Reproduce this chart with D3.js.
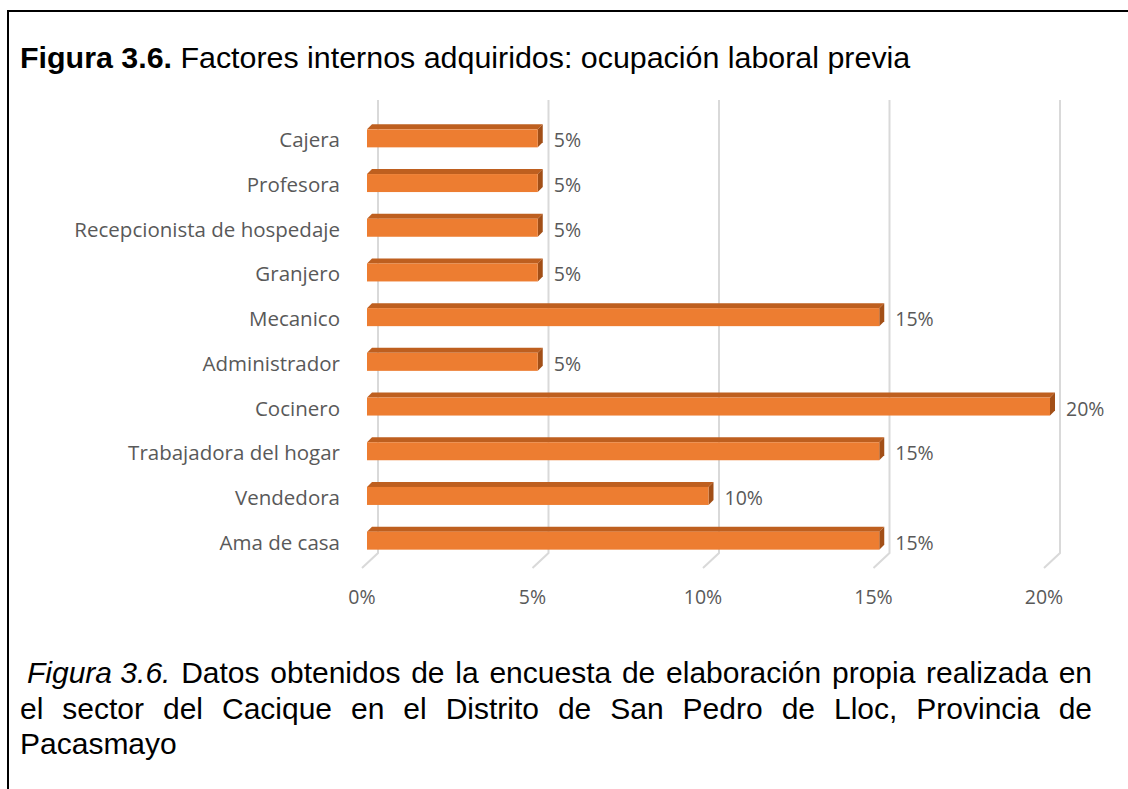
<!DOCTYPE html>
<html><head><meta charset="utf-8">
<script src="https://cdn.jsdelivr.net/npm/d3@7"></script>
<style>body{margin:0;background:#fff}svg{display:block}</style>
</head><body>
<svg id="c" width="1128" height="789"></svg>
<script>
const categories = ["Cajera","Profesora","Recepcionista de hospedaje","Granjero","Mecanico","Administrador","Cocinero","Trabajadora del hogar","Vendedora","Ama de casa"];
const values = [0.05,0.05,0.05,0.05,0.15,0.05,0.20,0.15,0.10,0.15];
const ticks = [0,0.05,0.10,0.15,0.20];
const titleBold = "Figura 3.6.";
const titleRest = " Factores internos adquiridos: ocupación laboral previa";
const captionItalic = "Figura 3.6.";
const captionLines = [
  "Datos obtenidos de la encuesta de elaboración propia realizada en",
  "el sector del Cacique en el Distrito de San Pedro de Lloc, Provincia de",
  "Pacasmayo"
];

const svg = d3.select("#c");
const W = 1128, H = 789;
// frame
svg.append("path").attr("d", `M8,${H} L8,11 L${W},11`).attr("fill","none").attr("stroke","#000").attr("stroke-width",2);

const capFont = "Liberation Sans, Arial, sans-serif";
const capSize = 30;

// title
const t = svg.append("text").attr("x",20).attr("y",68).attr("font-family",capFont).attr("font-size",30.4).attr("fill","#000");
t.append("tspan").attr("font-weight","bold").text(titleBold);
t.append("tspan").text(titleRest);

// scales
const xFront = d3.scaleLinear().domain([0,0.2]).range([367,1050]);
const xBack = d3.scaleLinear().domain([0,0.2]).range([378,1060]);
const y = d3.scaleBand().domain(categories).range([116,563]).paddingInner(0.6).paddingOuter(0.3);
const floorDx = -16, floorDy = 15;
const backTop = 100, backBottom = 553;

// gridlines
svg.append("g").selectAll("path").data(ticks).join("path")
  .attr("d", d => `M${xBack(d)},${backTop} L${xBack(d)},${backBottom} L${xBack(d)+floorDx},${backBottom+floorDy}`)
  .attr("fill","none").attr("stroke","#D9D9D9").attr("stroke-width",2);

// axis labels
const lblFont = "Open Sans, sans-serif";
const lblSize = 19.5;
svg.append("g").selectAll("text").data(ticks).join("text")
  .attr("x", d => xBack(d)+floorDx).attr("y",604).attr("text-anchor","middle")
  .attr("font-family",lblFont).attr("font-size",lblSize).attr("fill","#595959")
  .text(d3.format(".0%"));

// bars
const dep = 5;
const bh = 18;
const g = svg.append("g");
categories.forEach((c,i) => {
  const v = values[i];
  const cy = y(c) + y.bandwidth()/2;
  const x0 = xFront(0), x1 = xFront(v);
  const top = cy - bh/2, bot = cy + bh/2;
  g.append("path").attr("d", `M${x0},${top} L${x0+dep},${top-dep} L${x1+dep},${top-dep} L${x1},${top} Z`).attr("fill","#BE5F1F");
  g.append("path").attr("d", `M${x1},${top} L${x1+dep},${top-dep} L${x1+dep},${bot-dep} L${x1},${bot} Z`).attr("fill","#A24F17");
  g.append("rect").attr("x",x0).attr("y",top).attr("width",x1-x0).attr("height",bh).attr("fill","#ED7D31");
  g.append("text").attr("x",x1+16).attr("y",cy+9).attr("font-family",lblFont).attr("font-size",lblSize).attr("fill","#595959").text(d3.format(".0%")(v));
  g.append("text").attr("x",340).attr("y",cy+9).attr("text-anchor","end").attr("font-family",lblFont).attr("font-size",20.5).attr("fill","#595959").text(c);
});

// caption, justified
const left = 20, right = 1092, indent = 7;
const meas = svg.append("text").attr("font-family",capFont).attr("font-size",capSize);
function width(s, it){ meas.text(s).attr("font-style", it?"italic":"normal"); return meas.node().getComputedTextLength(); }
const lineWords = captionLines.map((ln,li) => {
  const ws = ln.split(" ").map(w=>({t:w,it:false}));
  if (li===0) ws.unshift({t:captionItalic,it:true});
  ws.forEach(w => w.w = width(w.t, w.it));
  return ws;
});
const spaceW = width("a b",false) - width("ab",false);
meas.remove();
const capG = svg.append("g");
lineWords.forEach((ln,li) => {
  const startX = left + (li===0?indent:0);
  const sum = d3.sum(ln, d=>d.w);
  const last = li===lineWords.length-1;
  const gap = (!last && ln.length>1) ? ((right-startX) - sum)/(ln.length-1) : spaceW;
  const txt = capG.append("text").attr("y", 683 + li*35.5).attr("font-family",capFont).attr("font-size",capSize).attr("fill","#000");
  let x = startX;
  ln.forEach(w => {
    txt.append("tspan").attr("x",x).attr("font-style",w.it?"italic":"normal").text(w.t);
    x += w.w + gap;
  });
});
</script>
</body></html>
